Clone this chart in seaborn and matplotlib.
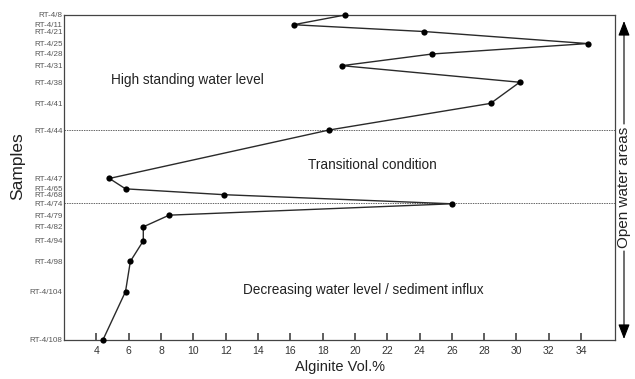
import matplotlib
matplotlib.use("Agg")
import matplotlib.pyplot as plt
import seaborn as sns
import pandas as pd

sns.set_style("ticks")
plt.rcParams['font.family'] = ['Liberation Sans', 'DejaVu Sans']

# samples, their relative depth position and alginite content
samples = ['RT-4/8', 'RT-4/11', 'RT-4/21', 'RT-4/25', 'RT-4/28', 'RT-4/31',
           'RT-4/38', 'RT-4/41', 'RT-4/44', 'RT-4/47', 'RT-4/65', 'RT-4/68',
           'RT-4/74', 'RT-4/79', 'RT-4/82', 'RT-4/94', 'RT-4/98', 'RT-4/104',
           'RT-4/108']
depth = [0, 3.0, 5.1, 8.8, 12.0, 15.6, 20.7, 27.2, 35.4, 50.3, 53.5, 55.3,
         58.1, 61.6, 65.2, 69.5, 75.8, 85.1, 100]
alginite = [19.4, 16.2, 24.3, 34.4, 24.8, 19.2, 30.2, 28.4, 18.4, 4.8, 5.8,
            11.9, 26.0, 8.5, 6.9, 6.9, 6.1, 5.8, 4.4]
x_ticks = list(range(4, 35, 2))
boundaries = [35.4, 57.8]

df = pd.DataFrame({'sample': samples, 'depth': depth, 'alginite': alginite})

fig = plt.figure(figsize=(6.35, 3.79), dpi=100)
ax = fig.add_axes([0.101, 0.103, 0.8675, 0.8575])

sns.lineplot(data=df, x='alginite', y='depth', orient='y', sort=False,
             estimator=None, color='#2a2a2a', lw=1.0, marker='o',
             markersize=4.5, markeredgewidth=0, markerfacecolor='black',
             clip_on=False, zorder=5, ax=ax)

for b in boundaries:
    ax.axhline(b, color='#666666', lw=0.7, ls=(0, (1.5, 1)))

ax.set_xlim(2, 36.1)
ax.set_ylim(100, 0)
ax.set_xticks(x_ticks)
ax.set_yticks(depth)
ax.set_yticklabels(samples)
ax.tick_params(axis='x', direction='in', length=5, width=1.1, labelsize=7.5,
               colors='#333333', pad=4)
ax.tick_params(axis='y', length=0, labelsize=5.8, colors='#555555', pad=1)
for s in ax.spines.values():
    s.set_color('#444444')
    s.set_linewidth(0.9)

ax.set_xlabel('Alginite Vol.%', fontsize=10.5, color='#222222', labelpad=3)
ax.set_ylabel('')
fig.text(18 / 635, 1 - 166 / 379, 'Samples', rotation=90, fontsize=12.5,
         color='#222222', ha='center', va='center')

ax.text(4.93, 20.0, 'High standing water level', fontsize=9.8,
        color='#222222', ha='left', va='center')
ax.text(17.08, 46.3, 'Transitional condition', fontsize=9.8,
        color='#222222', ha='left', va='center')
ax.text(13.09, 84.6, 'Decreasing water level / sediment influx', fontsize=9.8,
        color='#222222', ha='left', va='center')

# open water areas arrow on the right
xa = 624 / 635
arrow = dict(arrowstyle='-|>,head_length=0.9,head_width=0.35', color='black',
             lw=0.8, shrinkA=0, shrinkB=0)
ax.annotate('', xy=(xa, 1 - 21 / 379), xytext=(xa, 1 - 124 / 379),
            xycoords='figure fraction', textcoords='figure fraction',
            arrowprops=arrow)
ax.annotate('', xy=(xa, 1 - 339 / 379), xytext=(xa, 1 - 251 / 379),
            xycoords='figure fraction', textcoords='figure fraction',
            arrowprops=arrow)
fig.text(xa, 1 - 187 / 379, 'Open water areas', rotation=90, fontsize=11,
         color='#222222', ha='center', va='center')

fig.savefig('out.png', dpi=100)
